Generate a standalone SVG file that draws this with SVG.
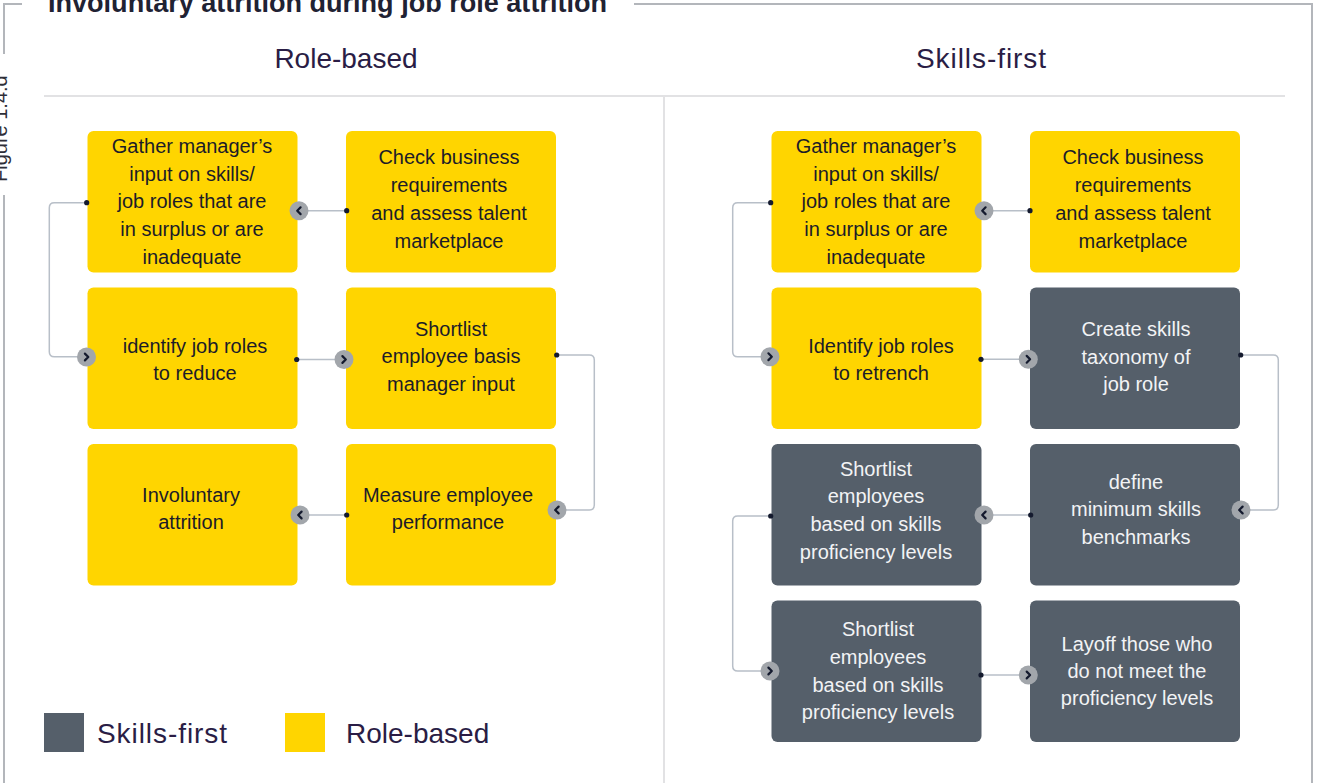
<svg xmlns="http://www.w3.org/2000/svg" xmlns:xlink="http://www.w3.org/1999/xlink" width="1319" height="783" viewBox="0 0 1319 783">
<style>
.frame{fill:none;stroke:#b3b6bb;stroke-width:2}
.sep{fill:none;stroke:#e2e2e4;stroke-width:2}
.title{font-family:"Liberation Sans",Arial,sans-serif;font-weight:bold;font-size:27px;fill:#1f2233}
.head{font-family:"Liberation Sans",Arial,sans-serif;font-size:28px;fill:#2a1d45;text-anchor:middle}
.leg{font-family:"Liberation Sans",Arial,sans-serif;font-size:28px;fill:#2a1d45}
.fig{font-family:"Liberation Sans",Arial,sans-serif;font-size:20px;fill:#2e2e38}
.yb{fill:#ffd500}
.gb{fill:#555f6a}
.t{font-family:"Liberation Sans",Arial,sans-serif;font-size:20px;text-anchor:middle}
.dk{fill:#1c1c28}
.lt{fill:#f2f3f5}
.conn{fill:none;stroke:#b8bfc8;stroke-width:1.5}
.dot{fill:#141a2e}
.cc{fill:#a2a6ab}
.chev{fill:none;stroke:#141a2e;stroke-width:2.2;stroke-linecap:round;stroke-linejoin:round}
</style>
<defs>
<g id="cr"><circle class="cc" r="9.5"/><path class="chev" d="M-1.6,-3.4 L1.8,0 L-1.6,3.4"/></g>
<g id="cl"><circle class="cc" r="9.5"/><path class="chev" d="M1.6,-3.4 L-1.8,0 L1.6,3.4"/></g>
</defs>
<rect width="1319" height="783" fill="#ffffff"/>
<g id="frame">
<path class="frame" d="M22,4 H4 V54"/>
<path class="frame" d="M4,195 V783"/>
<path class="frame" d="M634,4 H1312 V783"/>
<line class="sep" x1="44" y1="96" x2="1285" y2="96"/>
<line class="sep" x1="664" y1="96" x2="664" y2="783"/>
</g>
<text class="title" x="48" y="12" textLength="559" lengthAdjust="spacingAndGlyphs">Involuntary attrition during job role attrition</text>
<text class="fig" transform="translate(7,182) rotate(-90)">Figure 1.4.d</text>
<text class="head" x="346" y="68">Role-based</text>
<text class="head" x="981" y="68" textLength="130">Skills-first</text>
<g id="connectors">
<path class="conn" d="M346.7,210.7 H299"/>
<path class="conn" d="M86.7,202.7 H54.3 Q49.3,202.7 49.3,207.7 V351.7 Q49.3,356.7 54.3,356.7 H86.5"/>
<path class="conn" d="M296.7,359.5 H344"/>
<path class="conn" d="M556.7,355 H589.3 Q594.3,355 594.3,360 V505 Q594.3,510 589.3,510 H557"/>
<path class="conn" d="M346.7,515 H300"/>
<path class="conn" d="M1030,210.7 H984"/>
<path class="conn" d="M770.7,202.7 H737.7 Q732.7,202.7 732.7,207.7 V351.7 Q732.7,356.7 737.7,356.7 H770"/>
<path class="conn" d="M981,359.3 H1028.3"/>
<path class="conn" d="M1240.7,355 H1273.3 Q1278.3,355 1278.3,360 V505 Q1278.3,510 1273.3,510 H1241"/>
<path class="conn" d="M1030.7,515 H984"/>
<path class="conn" d="M770.7,516 H737.7 Q732.7,516 732.7,521 V666 Q732.7,671 737.7,671 H770"/>
<path class="conn" d="M981,675 H1028.3"/>
</g>
<g id="n-l1"><rect class="yb" x="87.5" y="131" width="210" height="141.5" rx="6"/>
<text class="t dk"><tspan x="192" y="153">Gather manager’s</tspan><tspan x="192" y="181">input on skills/</tspan><tspan x="192" y="208">job roles that are</tspan><tspan x="192" y="236">in surplus or are</tspan><tspan x="192" y="264">inadequate</tspan></text></g>
<g id="n-l2"><rect class="yb" x="346" y="131" width="210" height="141.5" rx="6"/>
<text class="t dk"><tspan x="449" y="164">Check business</tspan><tspan x="449" y="192">requirements</tspan><tspan x="449" y="220">and assess talent</tspan><tspan x="449" y="248">marketplace</tspan></text></g>
<g id="n-l3"><rect class="yb" x="87.5" y="287.5" width="210" height="141.5" rx="6"/>
<text class="t dk"><tspan x="195" y="353">identify job roles</tspan><tspan x="195" y="380">to reduce</tspan></text></g>
<g id="n-l4"><rect class="yb" x="346" y="287.5" width="210" height="141.5" rx="6"/>
<text class="t dk"><tspan x="451" y="336">Shortlist</tspan><tspan x="451" y="363">employee basis</tspan><tspan x="451" y="391">manager input</tspan></text></g>
<g id="n-l5"><rect class="yb" x="87.5" y="444" width="210" height="141.5" rx="6"/>
<text class="t dk"><tspan x="191" y="502">Involuntary</tspan><tspan x="191" y="529">attrition</tspan></text></g>
<g id="n-l6"><rect class="yb" x="346" y="444" width="210" height="141.5" rx="6"/>
<text class="t dk"><tspan x="448" y="502">Measure employee</tspan><tspan x="448" y="529">performance</tspan></text></g>
<g id="n-r1"><rect class="yb" x="771.5" y="131" width="210" height="141.5" rx="6"/>
<text class="t dk"><tspan x="876" y="153">Gather manager’s</tspan><tspan x="876" y="181">input on skills/</tspan><tspan x="876" y="208">job roles that are</tspan><tspan x="876" y="236">in surplus or are</tspan><tspan x="876" y="264">inadequate</tspan></text></g>
<g id="n-r2"><rect class="yb" x="1030" y="131" width="210" height="141.5" rx="6"/>
<text class="t dk"><tspan x="1133" y="164">Check business</tspan><tspan x="1133" y="192">requirements</tspan><tspan x="1133" y="220">and assess talent</tspan><tspan x="1133" y="248">marketplace</tspan></text></g>
<g id="n-r3"><rect class="yb" x="771.5" y="287.5" width="210" height="141.5" rx="6"/>
<text class="t dk"><tspan x="881" y="353">Identify job roles</tspan><tspan x="881" y="380">to retrench</tspan></text></g>
<g id="n-r4"><rect class="gb" x="1030" y="287.5" width="210" height="141.5" rx="6"/>
<text class="t lt"><tspan x="1136" y="336">Create skills</tspan><tspan x="1136" y="364">taxonomy of</tspan><tspan x="1136" y="391">job role</tspan></text></g>
<g id="n-r5"><rect class="gb" x="771.5" y="444" width="210" height="141.5" rx="6"/>
<text class="t lt"><tspan x="876" y="476">Shortlist</tspan><tspan x="876" y="503">employees</tspan><tspan x="876" y="531">based on skills</tspan><tspan x="876" y="559">proficiency levels</tspan></text></g>
<g id="n-r6"><rect class="gb" x="1030" y="444" width="210" height="141.5" rx="6"/>
<text class="t lt"><tspan x="1136" y="489">define</tspan><tspan x="1136" y="516">minimum skills</tspan><tspan x="1136" y="544">benchmarks</tspan></text></g>
<g id="n-r7"><rect class="gb" x="771.5" y="600.5" width="210" height="141.5" rx="6"/>
<text class="t lt"><tspan x="878" y="636">Shortlist</tspan><tspan x="878" y="664">employees</tspan><tspan x="878" y="692">based on skills</tspan><tspan x="878" y="719">proficiency levels</tspan></text></g>
<g id="n-r8"><rect class="gb" x="1030" y="600.5" width="210" height="141.5" rx="6"/>
<text class="t lt"><tspan x="1137" y="651">Layoff those who</tspan><tspan x="1137" y="678">do not meet the</tspan><tspan x="1137" y="705">proficiency levels</tspan></text></g>
<g id="connector-ends">
<circle class="dot" cx="346.7" cy="210.7" r="2.6"/><use xlink:href="#cl" x="299" y="210.7"/>
<circle class="dot" cx="86.7" cy="202.7" r="2.6"/><use xlink:href="#cr" x="86.5" y="357"/>
<circle class="dot" cx="296.7" cy="359.5" r="2.6"/><use xlink:href="#cr" x="344" y="359.5"/>
<circle class="dot" cx="556.7" cy="355" r="2.6"/><use xlink:href="#cl" x="557" y="510"/>
<circle class="dot" cx="346.7" cy="515" r="2.6"/><use xlink:href="#cl" x="300" y="515"/>
<circle class="dot" cx="1030" cy="210.7" r="2.6"/><use xlink:href="#cl" x="984" y="210.7"/>
<circle class="dot" cx="770.7" cy="202.7" r="2.6"/><use xlink:href="#cr" x="770" y="356.7"/>
<circle class="dot" cx="981" cy="359.3" r="2.6"/><use xlink:href="#cr" x="1028.3" y="359.3"/>
<circle class="dot" cx="1240.7" cy="355" r="2.6"/><use xlink:href="#cl" x="1241" y="510"/>
<circle class="dot" cx="1030.7" cy="515" r="2.6"/><use xlink:href="#cl" x="984" y="515"/>
<circle class="dot" cx="770.7" cy="516" r="2.6"/><use xlink:href="#cr" x="770" y="671"/>
<circle class="dot" cx="981" cy="675" r="2.6"/><use xlink:href="#cr" x="1028.3" y="675"/>
</g>
<g id="legend">
<rect class="gb" x="44" y="713" width="40" height="39"/>
<text class="leg" x="97" y="743" textLength="130">Skills-first</text>
<rect class="yb" x="285" y="713" width="40" height="39"/>
<text class="leg" x="346" y="743">Role-based</text>
</g>
</svg>
